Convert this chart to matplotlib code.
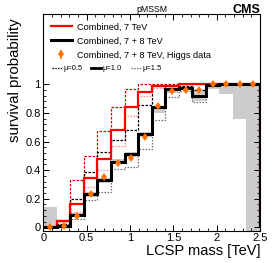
import numpy as np
import matplotlib
matplotlib.use("Agg")
import matplotlib.pyplot as plt
from matplotlib.ticker import FixedLocator
from matplotlib.lines import Line2D

# 데이터 (16 bins, 0 - 2.5 TeV)
edges = np.linspace(0.0, 2.5, 17)

red_7 = [0.0, 0.045, 0.165, 0.345, 0.475, 0.68, 0.84, 0.945, 0.985, 0.99, 1.0, 1.0, 1.0, 1.0, 1.0, 1.0]
red_7_mu05 = [0.0, 0.05, 0.33, 0.50, 0.67, 0.84, 0.97, 1.0, 1.0, 1.0, 1.0, 1.0, 1.0, 1.0, 1.0, 1.0]
red_7_mu15 = [0.0, 0.04, 0.11, 0.28, 0.40, 0.57, 0.78, 0.92, 0.975, 0.99, 1.0, 1.0, 1.0, 1.0, 1.0, 1.0]

black_78 = [0.0, 0.01, 0.085, 0.23, 0.33, 0.46, 0.51, 0.65, 0.84, 0.965, 0.975, 0.92, 0.995, 1.0, 1.0, 1.0]
black_78_mu05 = [0.0, 0.025, 0.20, 0.385, 0.53, 0.61, 0.68, 0.855, 0.99, 0.975, 0.99, 0.96, 1.0, 1.0, 1.0, 1.0]
black_78_mu15 = [0.0, 0.005, 0.06, 0.19, 0.25, 0.41, 0.42, 0.55, 0.75, 0.91, 0.95, 0.875, 0.99, 1.0, 1.0, 1.0]

band_low = [0.0, 0.0, 0.07, 0.21, 0.31, 0.44, 0.49, 0.63, 0.80, 0.94, 0.96, 0.88, 0.97, 0.93, 0.755, -0.05]
band_high = [0.14, 0.02, 0.10, 0.245, 0.345, 0.475, 0.525, 0.665, 0.85, 0.975, 0.985, 0.95, 1.0, 1.0, 1.0, 1.0]

higgs = [0.0, 0.01, 0.08, 0.23, 0.35, 0.45, 0.485, 0.635, 0.85, 0.955, 0.96, 0.96, 1.0, 1.0, 1.0, 1.0]
higgs_err = [0.015] * 16

x_ticks = [0, 0.5, 1.0, 1.5, 2.0, 2.5]
x_tick_labels = ["0", "0.5", "1", "1.5", "2", "2.5"]
y_ticks = [0, 0.2, 0.4, 0.6, 0.8, 1.0]
y_tick_labels = ["0", "0.2", "0.4", "0.6", "0.8", "1"]

centers = 0.5 * (edges[:-1] + edges[1:])

# 그림 설정
plt.rcParams["font.family"] = ["Liberation Sans", "DejaVu Sans"]
fig = plt.figure(figsize=(2.74, 2.63), dpi=100)
ax = fig.add_axes([0.158, 0.122, 0.791, 0.824])

ax.stairs(band_high, edges, baseline=band_low, fill=True, color="#cccccc", lw=0)

ax.stairs(red_7_mu15, edges, color="#ff8a8a", lw=0.9, ls=(0, (1.2, 1.2)))
ax.stairs(red_7_mu05, edges, color="#e00000", lw=0.9, ls=(0, (2, 1.2)))
ax.stairs(black_78_mu15, edges, color="#707070", lw=0.9, ls=(0, (1.2, 1.2)))
ax.stairs(black_78_mu05, edges, color="black", lw=0.9, ls=(0, (2, 1.2)))

ax.stairs(red_7, edges, color="#ff0000", lw=1.6, label="Combined, 7 TeV")
ax.stairs(black_78, edges, color="black", lw=2.2, label="Combined, 7 + 8 TeV")

ax.errorbar(centers, higgs, yerr=higgs_err, fmt="d", color="#ff7000",
            ms=4.5, mew=0, elinewidth=1.2, capsize=0,
            label="Combined, 7 + 8 TeV, Higgs data")

ax.set_xlim(0, 2.5)
ax.set_ylim(-0.025, 1.49)

ax.xaxis.set_major_locator(FixedLocator(x_ticks))
ax.xaxis.set_minor_locator(FixedLocator(np.arange(0, 2.5001, 0.1)))
ax.yaxis.set_major_locator(FixedLocator(y_ticks))
ax.yaxis.set_minor_locator(FixedLocator(np.arange(0, 1.0001, 0.04)))
ax.set_xticklabels(x_tick_labels)
ax.set_yticklabels(y_tick_labels)

ax.tick_params(which="both", direction="in", top=True, right=True, labelsize=8)
ax.tick_params(which="major", length=4.5, width=0.7)
ax.tick_params(which="minor", length=2.3, width=0.6)
ax.tick_params(axis="x", pad=1.5)
ax.tick_params(axis="y", pad=2)
for s in ax.spines.values():
    s.set_linewidth(0.8)

ax.set_xlabel("LCSP mass [TeV]", loc="right", fontsize=10.5, labelpad=1)
ax.set_ylabel("survival probability", loc="top", fontsize=10.8)
ax.yaxis.set_label_coords(-0.1, 0.98, transform=ax.transAxes)
ax.yaxis.label.set_horizontalalignment("right")

fig.text(0.553, 0.963, "pMSSM", ha="center", va="center", fontsize=6.3)
fig.text(0.949, 0.963, "CMS", ha="right", va="center", fontsize=9, fontweight="bold")

# 범례
leg1 = ax.legend(loc="upper left", bbox_to_anchor=(0.035, 0.962), frameon=False,
                 fontsize=6.6, handlelength=2.3, handletextpad=0.6,
                 labelspacing=0.55, borderpad=0, borderaxespad=0)
ax.add_artist(leg1)

mu_handles = [Line2D([], [], color="black", lw=0.9, ls=(0, (1.2, 1.0))),
              Line2D([], [], color="black", lw=2.0),
              Line2D([], [], color="#707070", lw=0.9, ls=(0, (1.2, 1.0)))]
mu_labels = ["\u03bc=0.5", "\u03bc=1.0", "\u03bc=1.5"]
ax.legend(mu_handles, mu_labels, loc="upper left", bbox_to_anchor=(0.04, 0.765),
          frameon=False, ncol=3, fontsize=5.4, handlelength=1.35,
          handletextpad=0.15, columnspacing=1.2, borderpad=0, borderaxespad=0)

fig.savefig("out.png", dpi=100)
